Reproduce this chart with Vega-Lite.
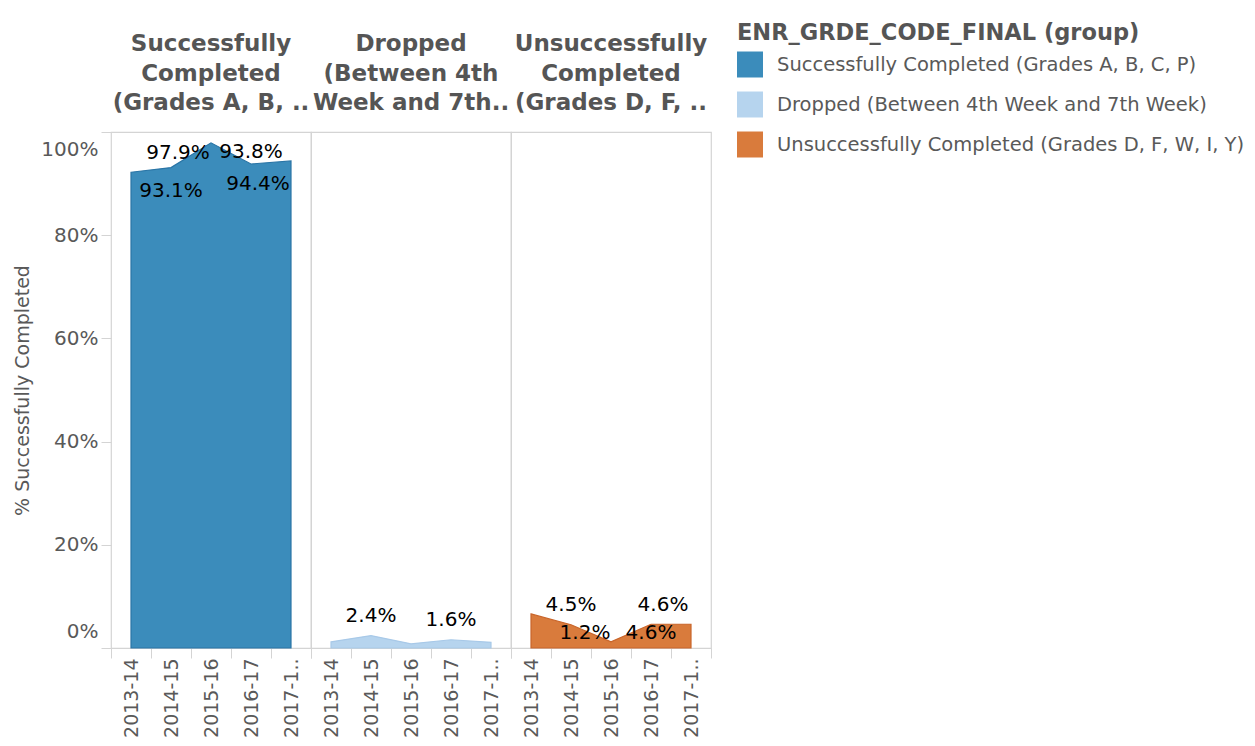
{
  "$schema": "https://vega.github.io/schema/vega-lite/v6.json",
  "background": "white",
  "padding": {"left": 13, "top": 22, "right": 5, "bottom": 5},
  "bounds": "flush",
  "config": {
    "font": "DejaVu Sans",
    "view": {"stroke": "#d4d4d4", "strokeWidth": 1.2},
    "axis": {"grid": false}
  },
  "data": {
    "values": [
      {"group": "Successfully Completed (Grades A, B, C, P)", "year": "2013-14", "value": 0.922},
      {"group": "Successfully Completed (Grades A, B, C, P)", "year": "2014-15", "value": 0.931},
      {"group": "Successfully Completed (Grades A, B, C, P)", "year": "2015-16", "value": 0.979},
      {"group": "Successfully Completed (Grades A, B, C, P)", "year": "2016-17", "value": 0.938},
      {"group": "Successfully Completed (Grades A, B, C, P)", "year": "2017-18", "value": 0.944},
      {"group": "Dropped (Between 4th Week and 7th Week)", "year": "2013-14", "value": 0.012},
      {"group": "Dropped (Between 4th Week and 7th Week)", "year": "2014-15", "value": 0.024},
      {"group": "Dropped (Between 4th Week and 7th Week)", "year": "2015-16", "value": 0.008},
      {"group": "Dropped (Between 4th Week and 7th Week)", "year": "2016-17", "value": 0.016},
      {"group": "Dropped (Between 4th Week and 7th Week)", "year": "2017-18", "value": 0.011},
      {"group": "Unsuccessfully Completed (Grades D, F, W, I, Y)", "year": "2013-14", "value": 0.066},
      {"group": "Unsuccessfully Completed (Grades D, F, W, I, Y)", "year": "2014-15", "value": 0.045},
      {"group": "Unsuccessfully Completed (Grades D, F, W, I, Y)", "year": "2015-16", "value": 0.012},
      {"group": "Unsuccessfully Completed (Grades D, F, W, I, Y)", "year": "2016-17", "value": 0.046},
      {"group": "Unsuccessfully Completed (Grades D, F, W, I, Y)", "year": "2017-18", "value": 0.046}
    ]
  },
  "spacing": 0,
  "facet": {
    "column": {
      "field": "group",
      "type": "nominal",
      "sort": ["Successfully Completed (Grades A, B, C, P)", "Dropped (Between 4th Week and 7th Week)", "Unsuccessfully Completed (Grades D, F, W, I, Y)"],
      "title": null,
      "header": {
        "labelExpr": "datum.value == 'Successfully Completed (Grades A, B, C, P)' ? ['Successfully','Completed','(Grades A, B, ..'] : datum.value == 'Dropped (Between 4th Week and 7th Week)' ? ['Dropped','(Between 4th','Week and 7th..'] : ['Unsuccessfully','Completed','(Grades D, F, ..']",
        "labelFontSize": 23,
        "labelFontWeight": "bold",
        "labelColor": "#555555",
        "labelLineHeight": 29.5,
        "labelPadding": 17,
        "labelLimit": 0
      }
    }
  },
  "spec": {
    "width": 200,
    "height": 516,
    "encoding": {
      "x": {
        "field": "year",
        "type": "ordinal",
        "bandPosition": 0.5,
        "scale": {"type": "band", "paddingInner": 0, "paddingOuter": 0},
        "axis": {
          "title": null,
          "labelAngle": 270,
          "labelAlign": "right",
          "labelBaseline": "middle",
          "labelFontSize": 19,
          "labelColor": "#595959",
          "tickBand": "extent",
          "tickSize": 10,
          "tickColor": "#d4d4d4",
          "domain": false,
          "labelPadding": 0,
          "labelExpr": "datum.value == '2017-18' ? '2017-1..' : datum.label"
        }
      },
      "y": {
        "field": "value",
        "type": "quantitative",
        "scale": {"domain": [0, 1], "nice": false},
        "axis": {
          "title": "% Successfully Completed",
          "format": ".0%",
          "values": [0, 0.2, 0.4, 0.6, 0.8, 1],
          "domain": false,
          "tickSize": 10,
          "tickColor": "#d4d4d4",
          "labelFontSize": 20,
          "labelColor": "#595959",
          "labelFlush": true,
          "labelFlushOffset": -7,
          "labelPadding": 3,
          "titleFontSize": 19,
          "titleFontWeight": "normal",
          "titleColor": "#595959",
          "titlePadding": 8
        }
      }
    },
    "layer": [
      {
        "mark": {"type": "area", "strokeWidth": 1.2},
        "encoding": {
          "color": {
            "field": "group",
            "type": "nominal",
            "scale": {
              "domain": ["Successfully Completed (Grades A, B, C, P)", "Dropped (Between 4th Week and 7th Week)", "Unsuccessfully Completed (Grades D, F, W, I, Y)"],
              "range": ["#3b8cbb", "#b6d4ee", "#d97b3c"]
            },
            "legend": {
              "orient": "none",
              "legendX": 626,
              "legendY": -110,
              "title": "ENR_GRDE_CODE_FINAL (group)",
              "titleFontSize": 22.5,
              "titleFontWeight": "bold",
              "titleColor": "#555555",
              "titleLimit": 600,
              "titlePadding": 7,
              "labelFontSize": 19.5,
              "labelColor": "#595959",
              "labelLimit": 600,
              "labelOffset": 14,
              "symbolType": "square",
              "symbolSize": 676,
              "symbolStrokeWidth": 0,
              "symbolOpacity": 1,
              "rowPadding": 14
            }
          },
          "stroke": {
            "field": "group",
            "type": "nominal",
            "scale": {
              "domain": ["Successfully Completed (Grades A, B, C, P)", "Dropped (Between 4th Week and 7th Week)", "Unsuccessfully Completed (Grades D, F, W, I, Y)"],
              "range": ["#2a75a6", "#a8c9e8", "#c9652a"]
            },
            "legend": null
          }
        }
      },
      {
        "transform": [{"filter": "(datum.group == 'Dropped (Between 4th Week and 7th Week)' && (datum.year=='2014-15' || datum.year=='2016-17')) || (datum.group == 'Unsuccessfully Completed (Grades D, F, W, I, Y)' && datum.year=='2014-15')"}],
        "mark": {"type": "text", "fontSize": 20, "color": "black", "baseline": "middle", "dy": -20},
        "encoding": {"text": {"field": "value", "format": ".1%"}}
      },
      {
        "transform": [{"filter": "datum.group == 'Successfully Completed (Grades A, B, C, P)' && datum.year=='2016-17'"}],
        "mark": {"type": "text", "fontSize": 20, "color": "black", "baseline": "middle", "dy": -12},
        "encoding": {"text": {"field": "value", "format": ".1%"}}
      },
      {
        "transform": [{"filter": "datum.group == 'Successfully Completed (Grades A, B, C, P)' && datum.year=='2014-15'"}],
        "mark": {"type": "text", "fontSize": 20, "color": "black", "baseline": "middle", "dy": 23},
        "encoding": {"text": {"field": "value", "format": ".1%"}}
      },
      {
        "transform": [{"filter": "datum.group == 'Successfully Completed (Grades A, B, C, P)' && datum.year=='2015-16'"}],
        "mark": {"type": "text", "fontSize": 20, "color": "black", "baseline": "middle", "dx": -33, "dy": 10},
        "encoding": {"text": {"field": "value", "format": ".1%"}}
      },
      {
        "transform": [{"filter": "datum.group == 'Successfully Completed (Grades A, B, C, P)' && datum.year=='2017-18'"}],
        "mark": {"type": "text", "fontSize": 20, "color": "black", "baseline": "middle", "dx": -33, "dy": 23},
        "encoding": {"text": {"field": "value", "format": ".1%"}}
      },
      {
        "transform": [{"filter": "datum.group == 'Unsuccessfully Completed (Grades D, F, W, I, Y)' && datum.year=='2015-16'"}],
        "mark": {"type": "text", "fontSize": 20, "color": "black", "baseline": "middle", "dx": -26, "dy": -9},
        "encoding": {"text": {"field": "value", "format": ".1%"}}
      },
      {
        "transform": [{"filter": "datum.group == 'Unsuccessfully Completed (Grades D, F, W, I, Y)' && datum.year=='2016-17'"}],
        "mark": {"type": "text", "fontSize": 20, "color": "black", "baseline": "middle", "dy": 9},
        "encoding": {"text": {"field": "value", "format": ".1%"}}
      },
      {
        "transform": [{"filter": "datum.group == 'Unsuccessfully Completed (Grades D, F, W, I, Y)' && datum.year=='2017-18'"}],
        "mark": {"type": "text", "fontSize": 20, "color": "black", "baseline": "middle", "dx": -28, "dy": -19},
        "encoding": {"text": {"field": "value", "format": ".1%"}}
      }
    ]
  }
}
